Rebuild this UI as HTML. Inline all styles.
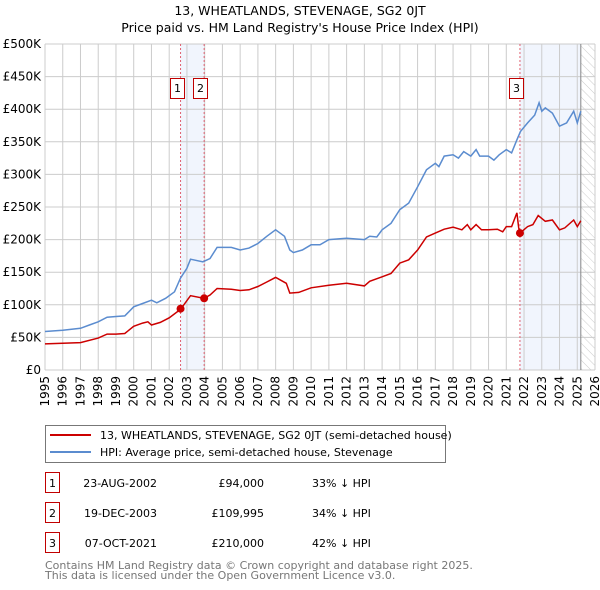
<!DOCTYPE html>
<html><head><meta charset="utf-8"><style>
body{margin:0;background:#fff;font-family:"DejaVu Sans","Liberation Sans",sans-serif}
svg{display:block}
</style></head><body>
<svg id="chart" width="600" height="590" xmlns="http://www.w3.org/2000/svg" font-family="DejaVu Sans, Liberation Sans, sans-serif">
<defs><pattern id="hatch" width="6" height="6" patternUnits="userSpaceOnUse" patternTransform="rotate(-45)"><line x1="0" y1="0" x2="0" y2="6" stroke="#ccc" stroke-width="1"/></pattern></defs>
<text x="300" y="15" text-anchor="middle" font-size="12.5">13, WHEATLANDS, STEVENAGE, SG2 0JT</text>
<text x="300" y="32" text-anchor="middle" font-size="12.5">Price paid vs. HM Land Registry's House Price Index (HPI)</text>
<g id="plot"></g>
<g>
<rect x="45.5" y="425.5" width="400" height="37" fill="#fff" stroke="#777"/>
<line x1="50" y1="435" x2="91" y2="435" stroke="#cc0000" stroke-width="2"/>
<text x="100" y="439" font-size="11">13, WHEATLANDS, STEVENAGE, SG2 0JT (semi-detached house)</text>
<line x1="50" y1="452" x2="91" y2="452" stroke="#5b8ccf" stroke-width="2"/>
<text x="100" y="456" font-size="11">HPI: Average price, semi-detached house, Stevenage</text>
</g>
<g id="table" font-size="11"></g>
<text x="45" y="569" font-size="11" fill="#777">Contains HM Land Registry data © Crown copyright and database right 2025.</text>
<text x="45" y="579" font-size="11" fill="#777">This data is licensed under the Open Government Licence v3.0.</text>
</svg>
<script>
const hpiYears=[1995,1996,1997,1997.5,1998,1998.5,1999,1999.5,2000,2000.5,2001,2001.3,2001.8,2002.3,2002.64,2003,2003.2,2003.9,2004.3,2004.7,2005.5,2006,2006.5,2007,2007.5,2008,2008.5,2008.8,2009,2009.5,2010,2010.5,2011,2012,2013,2013.3,2013.7,2014,2014.5,2015,2015.5,2016,2016.5,2017,2017.2,2017.5,2018,2018.3,2018.6,2019,2019.3,2019.5,2020,2020.3,2020.6,2021,2021.3,2021.6,2021.8,2022.2,2022.6,2022.85,2023,2023.2,2023.6,2024,2024.4,2024.8,2025,2025.2];
const hpiValues=[59,61,64,69,74,81,82,83,97,102,107,103,110,120,141,156,170,166,171,188,188,184,187,194,205,215,205,184,180,184,192,192,200,202,200,205,204,215,225,246,256,281,307,317,312,328,330,325,335,328,338,328,328,322,330,338,333,353,366,379,391,410,397,402,394,374,379,397,379,397];
const priceYears=[1995,1996,1997,1998,1998.5,1999,1999.5,2000,2000.5,2000.8,2001,2001.5,2002,2002.64,2003.2,2003.97,2004.3,2004.7,2005.5,2006,2006.5,2007,2007.5,2008,2008.6,2008.8,2009.3,2010,2011,2012,2013,2013.3,2014,2014.5,2015,2015.5,2016,2016.5,2017,2017.5,2018,2018.5,2018.8,2019,2019.3,2019.6,2020,2020.5,2020.8,2021,2021.3,2021.6,2021.7,2021.77,2022.2,2022.5,2022.8,2023.2,2023.6,2024,2024.3,2024.8,2025,2025.2];
const priceValues=[40,41,42,49,55,55,56,67,72,74,69,73,80,93,114,110,115,125,124,122,123,128,135,142,133,118,119,126,130,133,129,136,143,148,164,169,184,204,210,216,219,215,223,215,223,215,215,216,212,220,220,241,218,210,220,223,237,228,230,215,218,230,220,229];
const saleLabels=["1","2","3"];
const saleYears=[2002.64,2003.97,2021.77];
const saleValues=[94,109.995,210];
const saleDates=["23-AUG-2002","19-DEC-2003","07-OCT-2021"];
const salePrices=["£94,000","£109,995","£210,000"];
const saleDiffs=["33% ↓ HPI","34% ↓ HPI","42% ↓ HPI"];
const yTicks=[0,50,100,150,200,250,300,350,400,450,500];
const yTickLabels=["£0","£50K","£100K","£150K","£200K","£250K","£300K","£350K","£400K","£450K","£500K"];
const xTicks=[1995,1996,1997,1998,1999,2000,2001,2002,2003,2004,2005,2006,2007,2008,2009,2010,2011,2012,2013,2014,2015,2016,2017,2018,2019,2020,2021,2022,2023,2024,2025,2026];
const dataEnd=2025.2;

const X0=45,X1=595,Y0=370,Y1=44;
const xs=y=>X0+(y-1995)/(2026-1995)*(X1-X0);
const ys=v=>Y0-v/500*(Y0-Y1);
const NS="http://www.w3.org/2000/svg";
const plot=document.getElementById('plot');
function mk(tag,attrs,parent){const e=document.createElementNS(NS,tag);for(const k in attrs)e.setAttribute(k,attrs[k]);(parent||plot).appendChild(e);return e;}

let b=mk('rect',{x:xs(saleYears[0]),y:Y1,width:xs(saleYears[1])-xs(saleYears[0]),height:Y0-Y1,fill:'#eef3fc',opacity:0.8});


b=mk('rect',{x:xs(saleYears[2]),y:Y1,width:xs(dataEnd)-xs(saleYears[2]),height:Y0-Y1,fill:'#eef3fc',opacity:0.8});


b=mk('rect',{x:xs(dataEnd),y:Y1,width:X1-xs(dataEnd),height:Y0-Y1,fill:'url(#hatch)'});



yTicks.forEach((t,i)=>{
  const l=mk('line',{x1:X0,x2:X1,y1:ys(t),y2:ys(t),stroke:'#ccc','stroke-width':1});
  
  
  const tx=mk('text',{x:X0-4,y:ys(t)+4,'text-anchor':'end','font-size':12});
  tx.textContent=yTickLabels[i];
  
  
});
xTicks.forEach(t=>{
  const l=mk('line',{x1:xs(t),x2:xs(t),y1:Y1,y2:Y0,stroke:'#ccc','stroke-width':1});
  
  
  const tx=mk('text',{x:0,y:0,'text-anchor':'end','font-size':12,transform:`translate(${xs(t)+4},${Y0+6}) rotate(-90)`});
  tx.textContent=t;
  
  
});
let el=mk('line',{x1:xs(dataEnd),x2:xs(dataEnd),y1:Y1,y2:Y0,stroke:'#888','stroke-width':1});



saleYears.forEach(y=>{
  const l=mk('line',{x1:xs(y),x2:xs(y),y1:Y1,y2:Y0,stroke:'#e06070','stroke-width':1,'stroke-dasharray':'2,2'});
  
  
});

function path(xsA,vA){return xsA.map((y,i)=>(i?'L':'M')+xs(y).toFixed(1)+','+ys(vA[i]).toFixed(1)).join('');}
el=mk('path',{d:path(hpiYears,hpiValues),fill:'none',stroke:'#5b8ccf','stroke-width':1.5});


el=mk('path',{d:path(priceYears,priceValues),fill:'none',stroke:'#cc0000','stroke-width':1.5});



saleYears.forEach((y,i)=>{
  const c=mk('circle',{cx:xs(y),cy:ys(saleValues[i]),r:4,fill:'#cc0000'});
  
  
  const bx=Math.round(xs(y)-11)+0.5;
  const r=mk('rect',{x:bx,y:78.5,width:14,height:20,fill:'#fff',stroke:'#c00000'});
  
  
  const t=mk('text',{x:bx+7,y:92,'text-anchor':'middle','font-size':11});
  t.textContent=saleLabels[i];
  
  
});

const tb=document.getElementById('table');
saleLabels.forEach((s,i)=>{
  const cy=483+i*30;
  const r=mk('rect',{x:45.5,y:cy-10.5,width:14,height:20,fill:'#fff',stroke:'#c00000'},tb);
  
  
  let t=mk('text',{x:52.5,y:cy+4,'text-anchor':'middle'},tb);t.textContent=s;
  
  
  t=mk('text',{x:157,y:cy+4,'text-anchor':'end'},tb);t.textContent=saleDates[i];
  
  
  t=mk('text',{x:264,y:cy+4,'text-anchor':'end'},tb);t.textContent=salePrices[i];
  
  
  t=mk('text',{x:312,y:cy+4},tb);t.textContent=saleDiffs[i];
  
  
});
</script>
</body></html>
